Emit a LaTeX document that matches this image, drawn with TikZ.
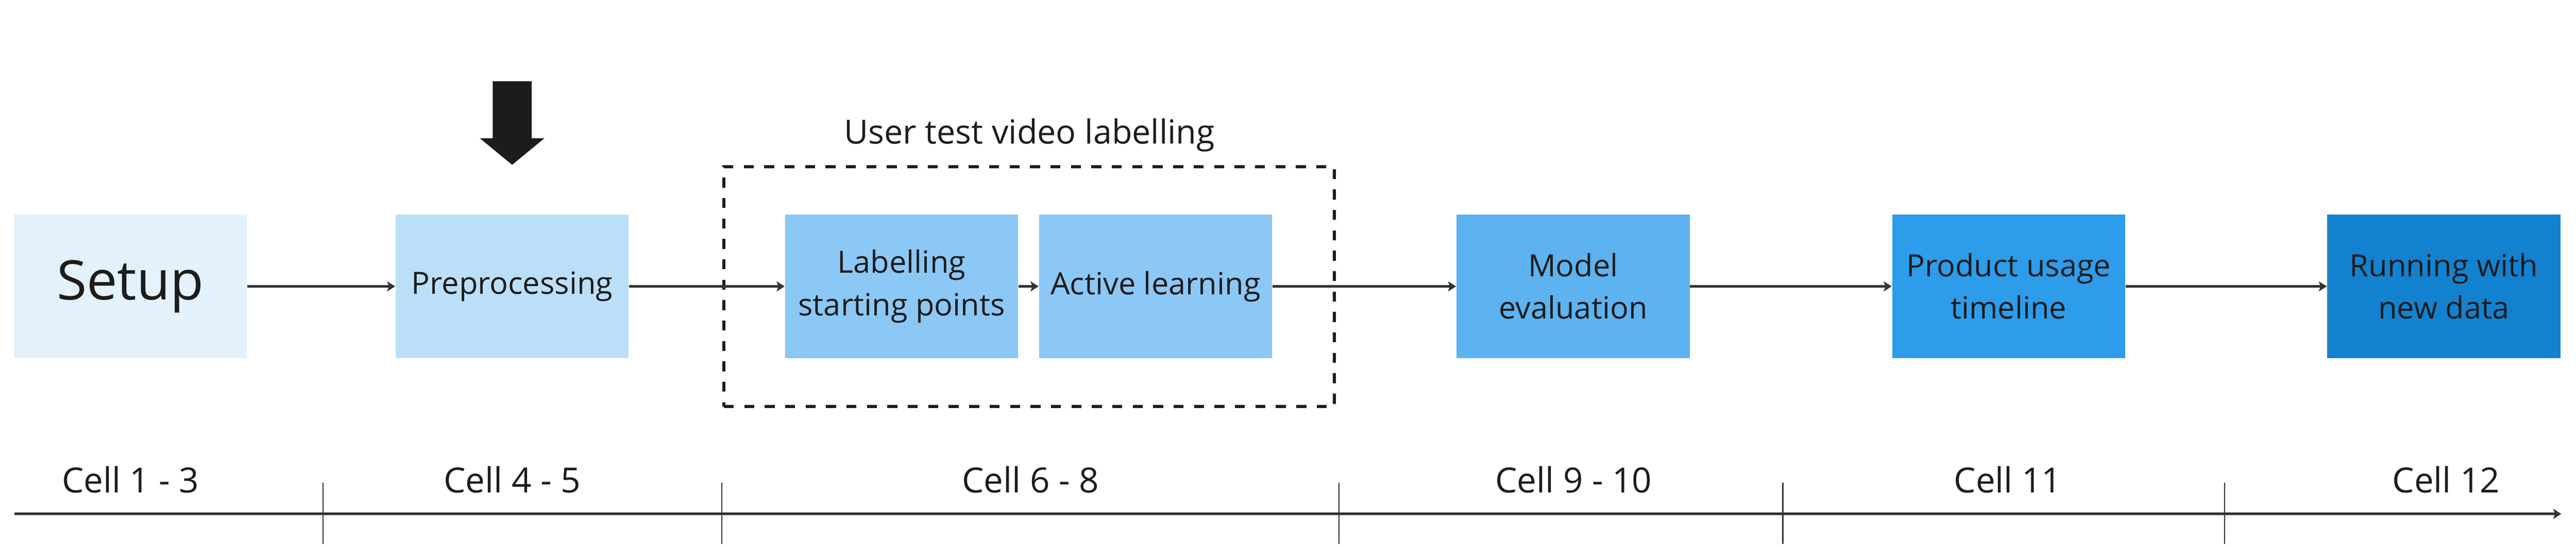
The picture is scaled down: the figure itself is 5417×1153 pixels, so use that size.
\documentclass[tikz,border=0pt]{standalone}
\usepackage{fontspec}
\setmainfont{Open Sans}
\usetikzlibrary{arrows.meta}
\definecolor{setupc}{HTML}{E3F2FC}
\definecolor{prec}{HTML}{BBDFF8}
\definecolor{labc}{HTML}{8BC8F5}
\definecolor{modc}{HTML}{5DB2F0}
\definecolor{proc}{HTML}{2D9CEB}
\definecolor{runc}{HTML}{1282D0}
\definecolor{linec}{HTML}{333333}
\definecolor{inkc}{HTML}{1C1C1C}
\tikzset{
  stagebox/.style={draw=none, minimum width=98pt, minimum height=60.4pt, inner sep=0pt,
    align=center, text=inkc, font=\fontsize{12.9}{17.8}\selectfont},
  conn/.style={draw=linec, line width=1.2pt, -{Stealth[length=3.4pt,width=4.2pt,inset=0.8pt]}},
  tickmark/.style={draw=linec, line width=0.5pt},
  celllabel/.style={text=inkc, inner sep=0pt, font=\fontsize{14.6}{17}\selectfont},
  groupbox/.style={draw=inkc, line width=1.2pt, dash pattern=on 4.2pt off 4.4pt,
    minimum width=256.8pt, minimum height=101pt, inner sep=0pt},
}
\begin{document}
\begin{tikzpicture}[x=0.2pt, y=-0.2pt]
\useasboundingbox (0,0) rectangle (5417,1153);
% big marker arrow
\fill[inkc] (1036,171) -- (1118,171) -- (1118,291) -- (1145,291) -- (1077,347) -- (1009,291) -- (1036,291) -- cycle;
% group box
\node[groupbox] (grp) at (2164,603.5) {};
\node[celllabel, font=\fontsize{14.0}{17}\selectfont] (grplabel) at (2165,285) {User test video labelling};
% stages
\node[stagebox, fill=setupc, font=\fontsize{23}{28}\selectfont] (setup) at (274,603) {Setup};
\node[stagebox, fill=prec] (pre) at (1077,603) {Preprocessing};
\node[stagebox, fill=labc] (lab) at (1896,603) {Labelling\\starting points};
\node[stagebox, fill=labc] (act) at (2430,603) {Active learning};
\node[stagebox, fill=modc] (mod) at (3308,603) {Model\\evaluation};
\node[stagebox, fill=proc] (prod) at (4224,603) {Product usage\\timeline};
\node[stagebox, fill=runc] (run) at (5139,603) {Running with\\new data};
% connectors
\draw[conn] (setup.east) -- (pre.west);
\draw[conn] (pre.east) -- (lab.west);
\draw[conn] (lab.east) -- (act.west);
\draw[conn] (act.east) -- (mod.west);
\draw[conn] (mod.east) -- (prod.west);
\draw[conn] (prod.east) -- (run.west);
% timeline
\coordinate (tlstart) at (30,1082);
\coordinate (tlend) at (5386,1082);
\draw[conn] (tlstart) -- (tlend);
\foreach \tx/\nm in {679/ta,1518/tb,2816/tc,3749/td,4678/te}{
  \coordinate (\nm top) at (\tx,1016);
  \coordinate (\nm bot) at (\tx,1145);
  \draw[tickmark] (\nm top) -- (\nm bot);
}
\node[celllabel] (c1) at (274,1010) {Cell 1 - 3};
\node[celllabel] (c2) at (1077,1010) {Cell 4 - 5};
\node[celllabel] (c3) at (2167,1010) {Cell 6 - 8};
\node[celllabel] (c4) at (3309,1010) {Cell 9 - 10};
\node[celllabel] (c5) at (4222,1010) {Cell 11};
\node[celllabel] (c6) at (5144,1010) {Cell 12};
\end{tikzpicture}
\end{document}
